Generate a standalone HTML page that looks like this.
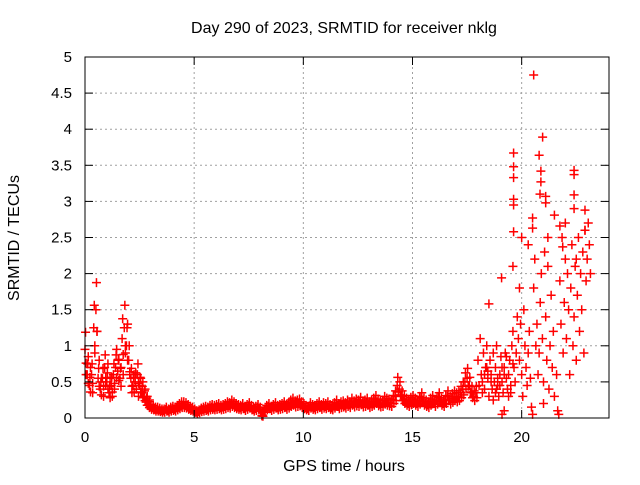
<!DOCTYPE html>
<html><head><meta charset="utf-8"><style>
html,body{margin:0;padding:0;background:#fff}
svg text{font-family:"Liberation Sans",sans-serif;font-size:15px;fill:#000}
svg text.big{font-size:16px}
</style></head><body>
<svg id="chart" width="640" height="480" xmlns="http://www.w3.org/2000/svg">
<rect width="640" height="480" fill="#fff"/>
<g id="grid"></g>
<g id="marks"></g>
<g id="axes"></g>
<text class="big" x="344" y="33" text-anchor="middle">Day 290 of 2023, SRMTID for receiver nklg</text>
<text class="big" x="344" y="471" text-anchor="middle">GPS time / hours</text>
<text class="big" transform="translate(19,238) rotate(-90)" text-anchor="middle">SRMTID / TECUs</text>
</svg>
<script>
const xTicks=[0,5,10,15,20];
const yTicks=[0,0.5,1,1.5,2,2.5,3,3.5,4,4.5,5];
const yTickLabels=["0","0.5","1","1.5","2","2.5","3","3.5","4","4.5","5"];
// regular samples every 0.1 h from 0.0 to 17.9
const baseValues=[
0.95,0.6,0.45,0.6,1.25,1.5,0.55,0.4,0.55,0.7,
0.5,0.35,0.45,0.6,0.7,0.65,0.55,1.1,1.25,1.0,
0.8,0.55,0.45,0.5,0.6,0.45,0.35,0.3,0.22,0.18,
0.15,0.14,0.12,0.12,0.11,0.1,0.1,0.12,0.1,0.12,
0.13,0.12,0.14,0.16,0.18,0.18,0.17,0.15,0.13,0.12,
0.1,0.08,0.09,0.11,0.12,0.13,0.12,0.14,0.15,0.14,
0.15,0.16,0.14,0.15,0.16,0.18,0.17,0.2,0.18,0.16,
0.15,0.14,0.16,0.13,0.15,0.17,0.14,0.12,0.13,0.15,
0.12,0.03,0.1,0.14,0.16,0.13,0.15,0.17,0.14,0.15,
0.16,0.18,0.15,0.17,0.2,0.22,0.19,0.2,0.21,0.18,
0.16,0.14,0.13,0.17,0.15,0.14,0.16,0.18,0.15,0.17,
0.16,0.18,0.15,0.14,0.17,0.2,0.16,0.18,0.19,0.17,
0.2,0.18,0.22,0.19,0.21,0.2,0.23,0.19,0.2,0.22,
0.18,0.2,0.22,0.25,0.21,0.19,0.2,0.24,0.22,0.21,
0.2,0.25,0.3,0.45,0.4,0.3,0.25,0.22,0.2,0.23,
0.25,0.22,0.2,0.24,0.28,0.22,0.2,0.18,0.22,0.25,
0.2,0.24,0.28,0.22,0.2,0.25,0.3,0.24,0.27,0.3,
0.28,0.3,0.35,0.4,0.5,0.55,0.45,0.35,0.3,0.35];
// secondary samples in the active early period (0.0–2.9 h)
const earlyValues=[
0.6,0.85,0.7,0.35,0.9,1.2,0.8,0.55,0.3,0.45,
0.75,0.55,0.3,0.4,0.95,0.8,0.7,0.6,0.9,1.3,
0.6,0.35,0.6,0.4,0.3,0.55,0.5,0.4,0.3,0.25];
const baseStart=0, baseStep=0.1;
const scatterTimes=[18.0,18.1,18.15,18.2,18.25,18.3,18.35,18.4,18.45,18.5,18.55,18.6,18.65,18.7,18.75,18.8,18.85,18.9,18.95,19.0,19.05,19.1,19.15,19.2,19.25,19.3,19.35,19.4,19.45,19.5,19.55,19.6,19.65,19.7,19.75,19.8,19.85,19.9,19.95,20.0,20.05,20.1,20.15,20.2,20.25,20.3,20.35,20.4,20.45,20.5,20.55,20.6,20.65,20.7,20.75,20.8,20.85,20.9,20.95,21.0,21.05,21.1,21.15,21.2,21.25,21.3,21.35,21.4,21.45,21.5,21.6,21.65,21.7,21.75,21.8,21.85,21.9,21.95,22.0,22.05,22.1,22.15,22.2,22.25,22.3,22.35,22.4,22.45,22.5,22.55,22.6,22.65,22.7,22.75,22.8,22.85,22.9,22.95,23.0,23.05,23.1,23.15,
20.55,20.96,19.63,19.63,19.63,20.8,20.88,20.88,22.4,22.4,19.63,19.63,20.84,21.1,21.1,22.4,22.4,22.9,22.9,21.5,20.5,20.5,19.63,21.75,21.88,19.08,18.5,19.6,20.0,21.2,22.5,22.0,19.9,20.3,21.0,19.2,19.1,
18.05,18.2,18.4,18.6,18.8,19.0,19.2,19.4,19.6,18.3,18.7,19.1,19.5,18.9,19.3,18.45,18.85];
const scatterValues=[0.8,1.1,0.6,0.5,0.9,0.4,0.7,1.0,0.55,0.3,0.8,0.6,0.4,0.9,0.5,0.7,1.0,0.45,0.3,0.6,0.85,0.5,0.35,0.7,0.9,0.55,0.4,0.6,0.8,0.45,1.0,1.2,0.7,0.5,0.9,1.4,1.1,0.8,1.3,0.6,0.3,1.5,1.0,0.7,0.45,0.9,1.2,0.55,0.15,0.05,1.8,2.2,1.0,1.3,0.6,0.9,1.6,2.0,1.1,0.5,2.3,1.4,0.8,2.1,0.4,1.0,1.7,0.7,1.2,0.3,0.6,0.1,0.05,1.9,1.3,2.5,0.9,1.6,2.2,1.1,2.0,1.5,0.6,1.8,2.4,1.0,1.4,2.1,0.8,1.7,2.5,1.2,2.0,1.5,2.3,0.9,2.6,1.9,2.2,2.7,2.4,2.0,
4.75,3.89,3.67,3.48,3.33,3.64,3.42,3.27,3.43,3.37,3.03,2.95,3.1,3.07,2.98,3.09,2.9,2.88,2.6,2.81,2.77,2.63,2.58,2.66,2.37,1.94,1.58,2.1,2.5,2.5,2.2,2.7,1.8,2.4,0.2,0.1,0.05,
0.45,0.35,0.7,0.5,0.35,0.45,0.6,0.3,0.75,0.6,0.25,0.7,0.35,0.55,0.85,0.65,0.4];

const L=85,R=609,T=57,B=418,XMAX=24,YMAX=5;
const xs=t=>L+(R-L)*t/XMAX;
const ys=v=>B-(B-T)*v/YMAX;
const NS="http://www.w3.org/2000/svg";
function mk(tag,attrs,parent){const e=document.createElementNS(NS,tag);for(const k in attrs)e.setAttribute(k,attrs[k]);parent.appendChild(e);return e;}
const grid=document.getElementById('grid'),axes=document.getElementById('axes'),marks=document.getElementById('marks');
yTicks.forEach((v,i)=>{
  const y=ys(v);
  if(i>0&&i<yTicks.length-1){const g=mk('line',{x1:L,x2:R,y1:y,y2:y,stroke:'#a0a0a0','stroke-dasharray':'2,3'},grid);
  
  }
  mk('line',{x1:L,x2:L+8,y1:y,y2:y,stroke:'#000'},axes);
  mk('line',{x1:R-8,x2:R,y1:y,y2:y,stroke:'#000'},axes);
  const t=mk('text',{x:L-13,y:y+5,'text-anchor':'end'},axes);
  
  
  t.textContent=yTickLabels[i];
});
xTicks.forEach(v=>{
  const x=xs(v);
  if(v>0){const g=mk('line',{x1:x,x2:x,y1:T,y2:B,stroke:'#a0a0a0','stroke-dasharray':'2,3'},grid);
  
  }
  mk('line',{x1:x,x2:x,y1:B,y2:B-8,stroke:'#000'},axes);
  mk('line',{x1:x,x2:x,y1:T,y2:T+8,stroke:'#000'},axes);
  const t=mk('text',{x:x,y:B+24,'text-anchor':'middle'},axes);
  
  
  t.textContent=String(v);
});
const frame=mk('rect',{x:L,y:T,width:R-L,height:B-T,fill:'none',stroke:'#000'},axes);


function plus(t,v){
  const x=xs(t),y=ys(v);
  const p=mk('path',{d:`M${x-4.5},${y}H${x+4.5}M${x},${y-4.5}V${y+4.5}`,stroke:'#ff0000','stroke-width':1.5,fill:'none'},marks);
  
  
}
baseValues.forEach((v,i)=>{
  const t=baseStart+i*baseStep;
  plus(t,v);
  plus(t+0.05,v*0.8);
  plus(t+0.025,v*1.25);
});
earlyValues.forEach((v,i)=>plus(baseStart+i*baseStep+0.05,v));
scatterTimes.forEach((t,i)=>plus(t,scatterValues[i]));
</script>
</body></html>
